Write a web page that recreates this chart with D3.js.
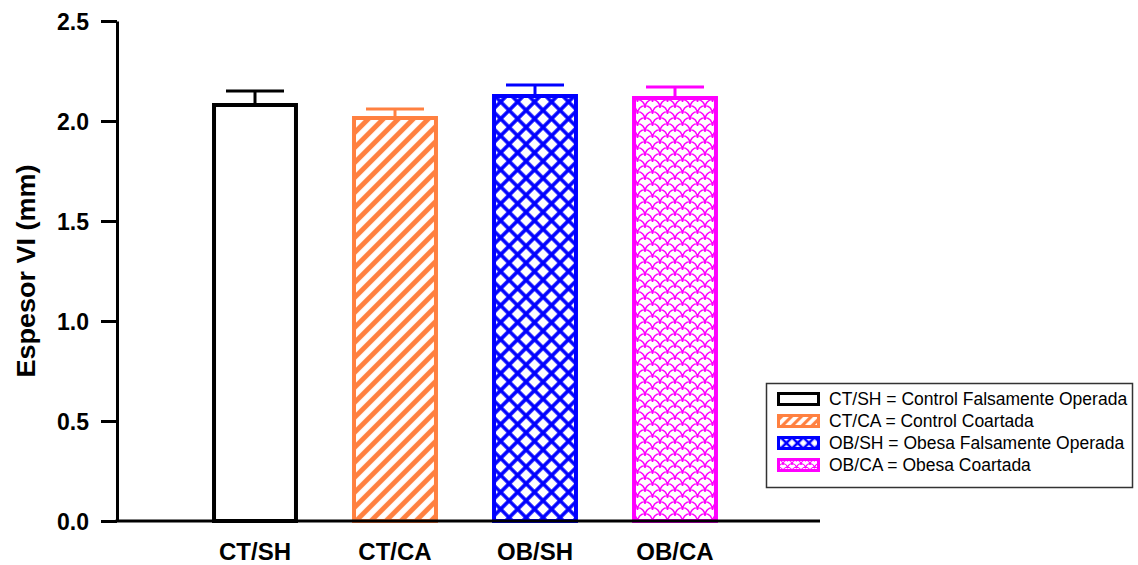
<!DOCTYPE html>
<html><head><meta charset="utf-8">
<script src="https://cdn.jsdelivr.net/npm/d3@7"></script>
<style>body{margin:0;background:#fff}svg{display:block}</style>
</head><body>
<svg id="c" width="1138" height="565"></svg>
<script>
const categories = ["CT/SH","CT/CA","OB/SH","OB/CA"];
const means = [2.09, 2.025, 2.135, 2.125];
const errors = [0.06, 0.035, 0.045, 0.045];
const yTicks = [0.0, 0.5, 1.0, 1.5, 2.0, 2.5];
const legendLabels = ["CT/SH = Control Falsamente Operada","CT/CA = Control Coartada","OB/SH = Obesa Falsamente Operada","OB/CA = Obesa Coartada"];
const colors = ["#000000","#FF8040","#0000FF","#FF00FF"];
const fills = ["#ffffff","url(#pOrange)","url(#pBlue)","url(#pMag)"];
const legendFills = ["#ffffff","url(#pOrangeL)","url(#pBlueL)","url(#pMagL)"];
const FONT = "Liberation Sans, Arial, sans-serif";

const svg = d3.select("#c");
const defs = svg.append("defs");
function stripes(id, d, sw){
  const p = defs.append("pattern").attr("id",id).attr("patternUnits","userSpaceOnUse")
    .attr("width",d).attr("height",d).attr("patternTransform","rotate(45)");
  p.append("rect").attr("width",d).attr("height",d).attr("fill","#fff");
  p.append("path").attr("d",`M${d/2},-1 V${d+1}`).attr("stroke","#FF8040").attr("stroke-width",sw);
}
stripes("pOrange",10.6,5);
stripes("pOrangeL",7,3.2);
function cross(id,d,sw){
  const p = defs.append("pattern").attr("id",id).attr("patternUnits","userSpaceOnUse")
    .attr("width",d).attr("height",d).attr("patternTransform","rotate(45)");
  p.append("rect").attr("width",d).attr("height",d).attr("fill","#fff");
  p.append("path").attr("d",`M${d/2},-1 V${d+1} M-1,${d/2} H${d+1}`).attr("stroke","#0000FF").attr("stroke-width",sw);
}
cross("pBlue",12,3.6);
cross("pBlueL",8,2.6);
function scales(id,w,h,sw){
  const p = defs.append("pattern").attr("id",id).attr("patternUnits","userSpaceOnUse")
    .attr("width",w).attr("height",h);
  p.append("rect").attr("width",w).attr("height",h).attr("fill","#fff");
  const r = w/2, ry = h*0.7;
  let dd = "";
  [[0,h],[0,0],[-w/2,h/2],[w/2,h/2],[-w/2,1.5*h],[w/2,1.5*h]].forEach(([x0,y0])=>{
    dd += `M${x0},${y0} A${r},${ry} 0 0 1 ${x0+w},${y0} `;
  });
  p.append("path").attr("d",dd).attr("fill","none").attr("stroke","#FF00FF").attr("stroke-width",sw);
}
scales("pMag",15,12,1.5);
scales("pMagL",9,7,1.2);

const x = d3.scaleBand().domain(categories).range([185,745]).paddingInner(0.386).paddingOuter(0.193);
const y = d3.scaleLinear().domain([0,2.5]).range([521,21]);

const data = categories.map((c,i)=>({c,m:means[i],e:errors[i],col:colors[i],fill:fills[i]}));
const g = svg.append("g");
g.selectAll("line.err").data(data).enter().append("line")
  .attr("x1",d=>x(d.c)+x.bandwidth()/2).attr("x2",d=>x(d.c)+x.bandwidth()/2)
  .attr("y1",d=>y(d.m)).attr("y2",d=>y(d.m+d.e)).attr("stroke",d=>d.col).attr("stroke-width",3);
g.selectAll("line.cap").data(data).enter().append("line")
  .attr("x1",d=>x(d.c)+x.bandwidth()/2-29).attr("x2",d=>x(d.c)+x.bandwidth()/2+29)
  .attr("y1",d=>y(d.m+d.e)).attr("y2",d=>y(d.m+d.e)).attr("stroke",d=>d.col).attr("stroke-width",3);
g.selectAll("rect.bar").data(data).enter().append("rect")
  .attr("x",d=>x(d.c)+2).attr("width",x.bandwidth()-4)
  .attr("y",d=>y(d.m)+2).attr("height",d=>y(0)-y(d.m)-2)
  .attr("fill",d=>d.fill).attr("stroke",d=>d.col).attr("stroke-width",4);

// y axis
const yAx = svg.append("g").attr("transform","translate(117,0)")
  .call(d3.axisLeft(y).tickValues(yTicks).tickFormat(d3.format(".1f")).tickSize(16).tickSizeOuter(0));
yAx.select(".domain").attr("stroke","#000").attr("stroke-width",3);
yAx.selectAll(".tick line").attr("stroke","#000").attr("stroke-width",3);
yAx.selectAll(".tick text").attr("font-family",FONT).attr("font-weight","bold")
  .attr("font-size",23).attr("fill","#000").attr("x",-28).attr("dy","0.36em");

// x axis
const xAx = svg.append("g").attr("transform","translate(0,521)")
  .call(d3.axisBottom(x).tickSize(0).tickSizeOuter(0));
xAx.select(".domain").attr("d","M115.5,0H820").attr("stroke","#000").attr("stroke-width",3);
xAx.selectAll(".tick text").attr("font-family",FONT).attr("font-weight","bold")
  .attr("font-size",24).attr("fill","#000").attr("y",38.5).attr("dy",0);

// y label
svg.append("text").attr("transform","translate(35,271) rotate(-90)").attr("text-anchor","middle")
  .attr("font-family",FONT).attr("font-weight","bold").attr("font-size",25)
  .attr("textLength",213).attr("lengthAdjust","spacingAndGlyphs")
  .text("Espesor VI (mm)");

// legend
const lg = svg.append("g");
lg.append("rect").attr("x",766.5).attr("y",383.5).attr("width",366).attr("height",104)
  .attr("fill","#fff").attr("stroke","#333").attr("stroke-width",1.5);
const rows = lg.selectAll("g.row").data(legendLabels).enter().append("g")
  .attr("transform",(d,i)=>`translate(0,${399+i*22})`);
rows.append("rect").attr("x",778.5).attr("y",-5.5).attr("width",40).attr("height",11)
  .attr("fill",(d,i)=>legendFills[i]).attr("stroke",(d,i)=>colors[i]).attr("stroke-width",3);
rows.append("text").attr("x",829).attr("y",0).attr("dy","0.36em")
  .attr("font-family",FONT).attr("font-size",17.5).attr("fill","#000")
  .text(d=>d);
</script>
</body></html>
